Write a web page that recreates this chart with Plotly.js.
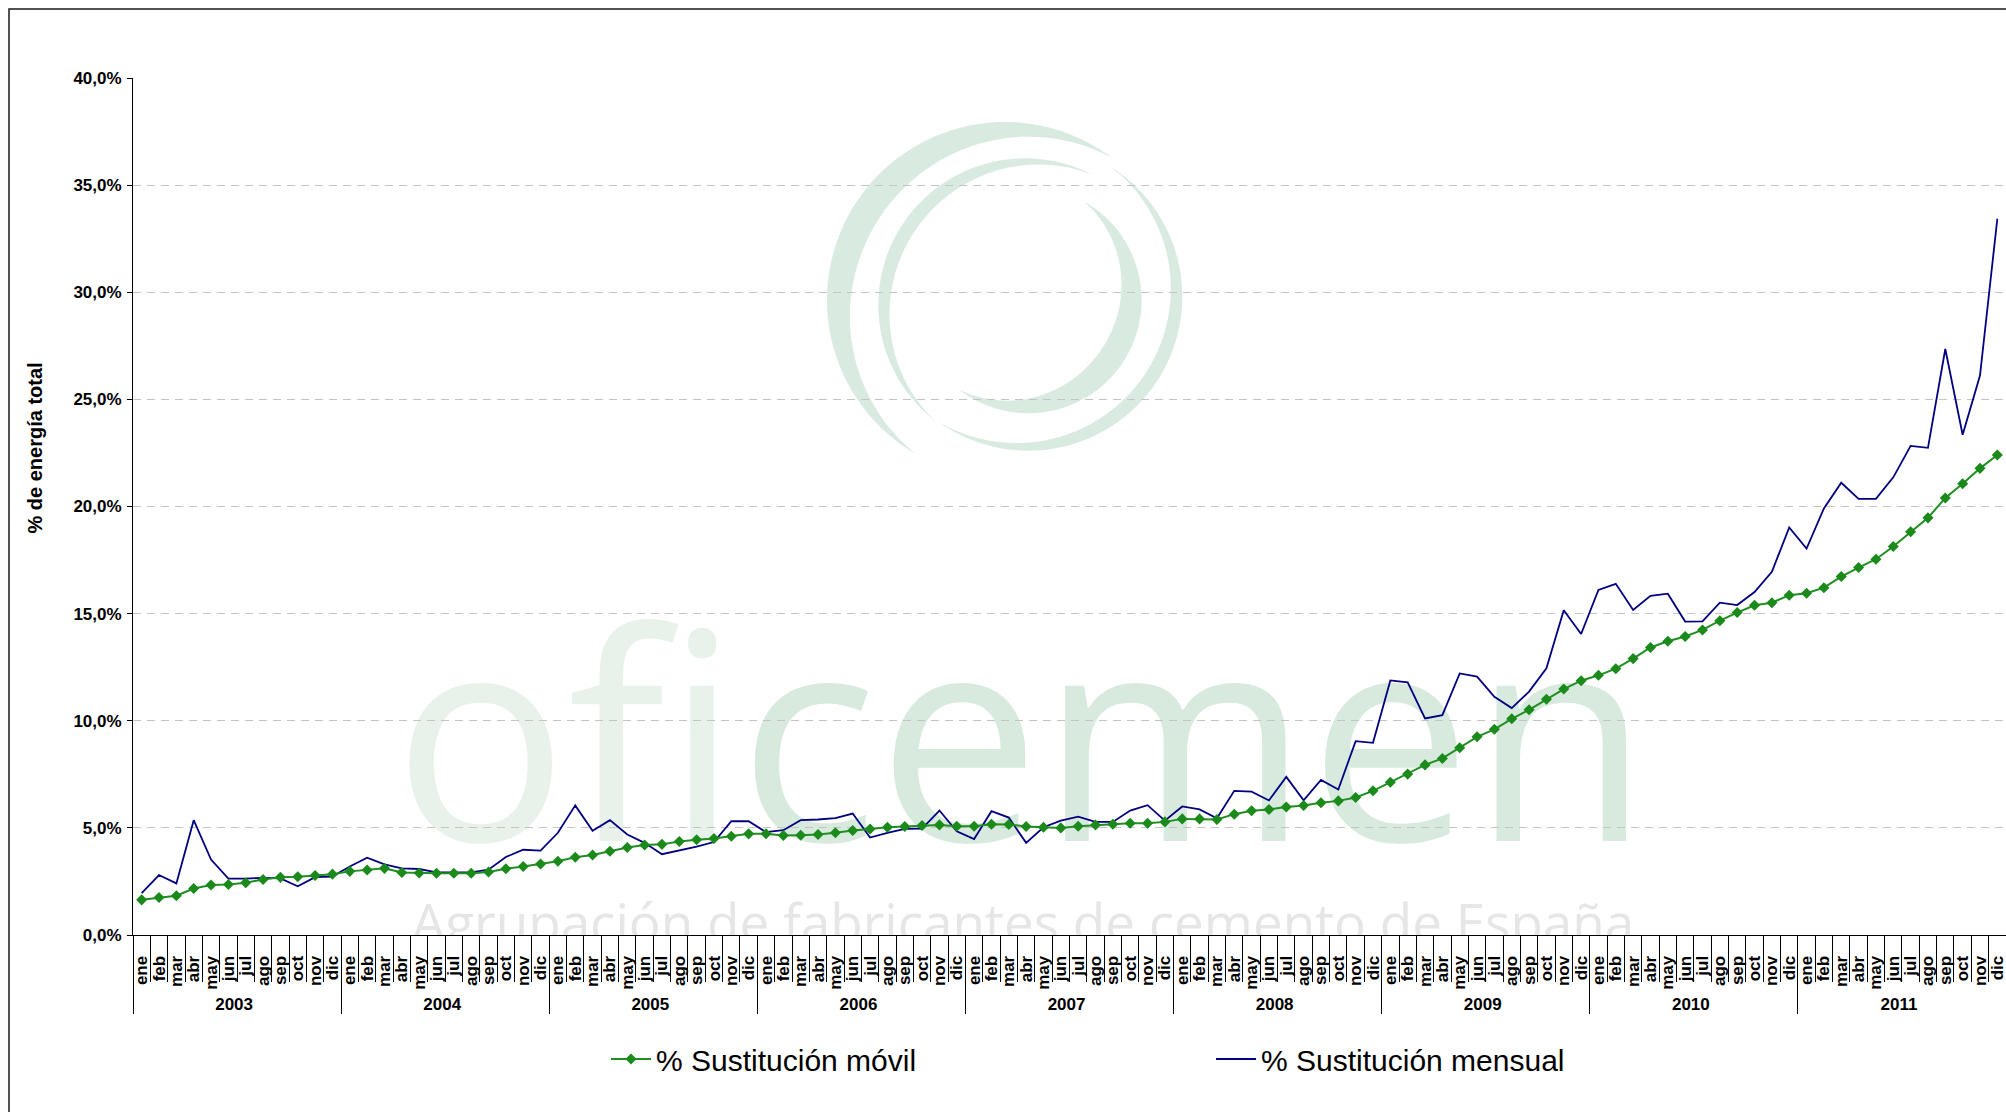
<!DOCTYPE html>
<html>
<head>
<meta charset="utf-8">
<script src="https://cdn.plot.ly/plotly-3.0.1.min.js"></script>
<style>html,body{margin:0;padding:0;background:#fff;}#chart{width:2006px;height:1112px;}</style>
</head>
<body>
<div id="chart"></div>
<script>
// ---- data ----
var years = ['2003','2004','2005','2006','2007','2008','2009','2010','2011'];
var months = ['ene','feb','mar','abr','may','jun','jul','ago','sep','oct','nov','dic'];

var sustitucionMovil = [
  1.64, 1.75, 1.83, 2.17, 2.33, 2.36, 2.44, 2.59, 2.69, 2.72, 2.78, 2.84,
  2.97, 3.03, 3.11, 2.92, 2.89, 2.88, 2.88, 2.88, 2.94, 3.09, 3.20, 3.31,
  3.44, 3.63, 3.73, 3.91, 4.08, 4.20, 4.23, 4.36, 4.45, 4.50, 4.61, 4.72,
  4.73, 4.64, 4.66, 4.69, 4.77, 4.88, 4.95, 5.03, 5.06, 5.11, 5.14, 5.08,
  5.08, 5.17, 5.16, 5.06, 5.03, 5.00, 5.08, 5.13, 5.17, 5.22, 5.22, 5.28,
  5.42, 5.42, 5.39, 5.64, 5.80, 5.86, 5.97, 6.04, 6.17, 6.26, 6.42, 6.73,
  7.13, 7.51, 7.94, 8.24, 8.74, 9.25, 9.60, 10.09, 10.51, 11.00, 11.48, 11.87,
  12.12, 12.43, 12.90, 13.42, 13.71, 13.93, 14.24, 14.67, 15.05, 15.39, 15.51, 15.86,
  15.95, 16.21, 16.73, 17.15, 17.54, 18.13, 18.82, 19.47, 20.40, 21.06, 21.78, 22.40
];

var sustitucionMensual = [
  1.95, 2.80, 2.41, 5.36, 3.52, 2.63, 2.63, 2.67, 2.64, 2.27, 2.70, 2.73,
  3.20, 3.61, 3.30, 3.11, 3.08, 2.92, 2.92, 2.92, 3.05, 3.64, 3.98, 3.94,
  4.77, 6.05, 4.86, 5.36, 4.69, 4.30, 3.77, 3.94, 4.13, 4.34, 5.31, 5.31,
  4.80, 4.89, 5.36, 5.39, 5.45, 5.67, 4.55, 4.77, 4.95, 4.97, 5.81, 4.84,
  4.48, 5.78, 5.48, 4.30, 5.03, 5.34, 5.52, 5.28, 5.28, 5.81, 6.06, 5.34,
  6.00, 5.86, 5.45, 6.73, 6.69, 6.28, 7.38, 6.29, 7.24, 6.79, 9.05, 8.97,
  11.88, 11.79, 10.11, 10.26, 12.21, 12.06, 11.12, 10.59, 11.36, 12.45, 15.16, 14.05,
  16.11, 16.39, 15.17, 15.83, 15.93, 14.63, 14.64, 15.51, 15.40, 16.01, 16.95, 19.02,
  18.04, 19.91, 21.11, 20.36, 20.36, 21.36, 22.83, 22.74, 27.35, 23.35, 26.11, 33.43
];

var serieMovil = '% Sustitución móvil';
var serieMensual = '% Sustitución mensual';
var yTitle = '% de energía total';
var watermarkSub = 'Agrupación de fabricantes de cemento de España';

// ---- build multicategory x ----
var xYear = [], xMonth = [];
for (var i = 0; i < sustitucionMovil.length; i++) {
  xYear.push(years[Math.floor(i / 12)]);
  xMonth.push(months[i % 12]);
}
var nCat = xMonth.length;

// ---- layout geometry (px) ----
var W = 2006, H = 1112, ML = 133, MR = 0, MT = 78, MB = 177;
var PW = W - ML - MR, PH = H - MT - MB;
function ax(px) { return (px - ML) / PW; }
function ay(py) { return (H - MB - py) / PH; }

// watermark swoosh arcs (decoration), in px -> watermark axes
function arcPath(cx, cy, R, a0, a1, w) {
  var n = 72, pts = [], k, t, th;
  for (k = 0; k <= n; k++) {
    t = k / n; th = (a0 + (a1 - a0) * t) * Math.PI / 180;
    pts.push([cx + R * Math.cos(th), cy + R * Math.sin(th)]);
  }
  for (k = n; k >= 0; k--) {
    t = k / n; th = (a0 + (a1 - a0) * t) * Math.PI / 180;
    var r = R - w * Math.sin(Math.PI * t);
    pts.push([cx + r * Math.cos(th), cy + r * Math.sin(th)]);
  }
  return pts.map(function (p, j) {
    return (j === 0 ? 'M' : 'L') + ax(p[0]).toFixed(5) + ',' + ay(p[1]).toFixed(5);
  }).join('') + 'Z';
}
var arcColor = '#d9ebe1';
var arcs = [
  [1005, 300, 178, -53, -240, 28],
  [1028.3, 296.7, 154, 126, -58, 14],
  [1025, 305, 146.7, -62.5, -232, 14],
  [1028.3, 300, 113.3, -60.5, 127.7, 25]
];
var shapes = arcs.map(function (a) {
  return { type: 'path', xref: 'x', yref: 'y', layer: 'below',
           path: arcPath(a[0], a[1], a[2], a[3], a[4], a[5]),
           fillcolor: arcColor, line: { width: 0 } };
});
// chart frame
shapes.push({ type: 'rect', xref: 'paper', yref: 'paper',
  x0: ax(9), x1: 1.02, y0: -0.3, y1: ay(9),
  line: { color: '#1a1a1a', width: 1.5 }, fillcolor: 'rgba(0,0,0,0)', layer: 'above' });

var baseFont = 'Liberation Sans, Arial, sans-serif';

var traces = [
  // watermark (own subplot underneath)
  { type: 'scatter', mode: 'text', xaxis: 'x', yaxis: 'y',
    x: [ax(1021.5)], y: [ay(870 - 0.35 * 290)],
    text: ['<span style="color:#e8f2eb">ofi</span><span style="color:#d7eadd">cemen</span>'],
    textposition: 'middle center',
    textfont: { family: 'Open Sans, sans-serif', size: 290, color: '#d7eadd' },
    hoverinfo: 'skip', showlegend: false, cliponaxis: true },
  { type: 'scatter', mode: 'text', xaxis: 'x', yaxis: 'y',
    x: [ax(1023)], y: [ay(947 - 0.35 * 53)],
    text: [watermarkSub],
    textposition: 'middle center',
    textfont: { family: 'Open Sans, sans-serif', size: 53, color: '#e6e6e6' },
    hoverinfo: 'skip', showlegend: false, cliponaxis: true },
  // data
  { type: 'scatter', mode: 'lines', name: serieMensual, xaxis: 'x2', yaxis: 'y2',
    x: [xYear, xMonth], y: sustitucionMensual,
    line: { color: '#000080', width: 1.8 }, legendrank: 2 },
  { type: 'scatter', mode: 'lines+markers', name: serieMovil, xaxis: 'x2', yaxis: 'y2',
    x: [xYear, xMonth], y: sustitucionMovil,
    line: { color: '#1f8f1f', width: 2 },
    marker: { symbol: 'diamond', size: 8.5, color: '#1a8a1a', line: { width: 0 } },
    legendrank: 1 }
];

var tickFont = { family: baseFont, size: 17, color: '#000', weight: 'bold' };

var layout = {
  width: W, height: H,
  margin: { l: ML, r: MR, t: MT, b: MB, pad: 0 },
  paper_bgcolor: '#ffffff', plot_bgcolor: 'rgba(0,0,0,0)',
  separators: ',.',
  showlegend: true,
  font: { family: baseFont, color: '#000' },
  xaxis: { domain: [0, 1], range: [0, 1], visible: false, fixedrange: true, anchor: 'y' },
  yaxis: { domain: [0, 1], range: [0, 1], visible: false, fixedrange: true, anchor: 'x' },
  xaxis2: {
    type: 'multicategory', anchor: 'y2', domain: [0, 1],
    autorange: false, range: [-0.5, nCat - 0.5],
    tickmode: 'linear', tick0: 0, dtick: 1,
    showline: true, linecolor: '#000', linewidth: 1,
    ticks: 'outside', tickson: 'boundaries', ticklen: 46, tickcolor: '#000', tickwidth: 1,
    tickangle: -90, tickfont: tickFont, ticklabelstandoff: 13,
    showdividers: true, dividercolor: '#000', dividerwidth: 1,
    showgrid: false, zeroline: false, fixedrange: true
  },
  yaxis2: {
    anchor: 'x2', domain: [0, 1], range: [0, 40], dtick: 5, tick0: 0,
    tickformat: '.1f', ticksuffix: '%',
    showline: true, linecolor: '#000', linewidth: 1,
    ticks: 'outside', ticklen: 5, tickcolor: '#000', tickwidth: 1,
    tickfont: tickFont, ticklabelstandoff: 2,
    showgrid: true, gridcolor: '#c4c4c4', gridwidth: 1, griddash: '8px,6px',
    zeroline: false, fixedrange: true
  },
  legend: {
    orientation: 'h', x: ax(606), xanchor: 'left', y: ay(1059), yanchor: 'middle',
    entrywidth: 550, entrywidthmode: 'pixels', itemwidth: 40,
    font: { family: baseFont, size: 30, color: '#000' },
    bgcolor: 'rgba(0,0,0,0)', traceorder: 'normal'
  },
  annotations: [{
    text: yTitle, textangle: -90, xref: 'paper', yref: 'paper',
    x: ax(34.5), y: ay(448), xanchor: 'center', yanchor: 'middle', showarrow: false,
    font: { family: baseFont, size: 20, color: '#000', weight: 'bold' }
  }],
  shapes: shapes
};

Plotly.newPlot('chart', traces, layout, { displayModeBar: false, staticPlot: true });
</script>
</body>
</html>
